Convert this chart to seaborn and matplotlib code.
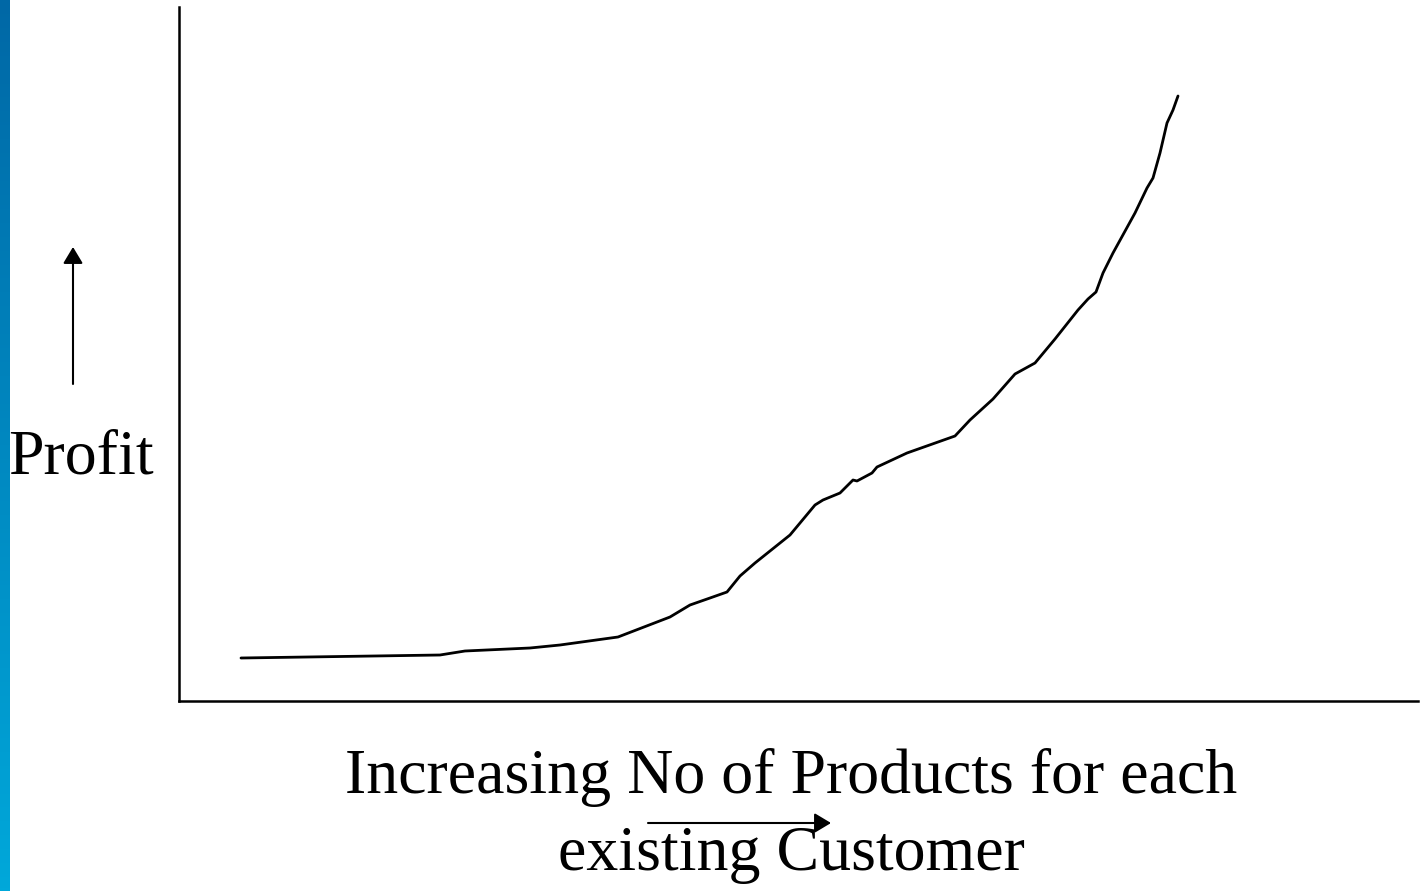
import numpy as np
import pandas as pd
import seaborn as sns
import matplotlib.pyplot as plt
from matplotlib.patches import FancyArrowPatch
from matplotlib.colors import LinearSegmentedColormap

sns.set_style("white")
plt.rcParams['font.family'] = ['Liberation Serif', 'DejaVu Serif']
plt.rcParams['text.color'] = 'black'

# curve (x: products, y: profit), pixel-like units
products = [62, 261, 286, 351, 381, 439, 491, 511, 531, 548, 561, 576, 611,
            636, 644, 661, 674, 678, 693, 698, 728, 776, 791, 814, 836, 856,
            876, 899, 909, 917, 924, 934, 956, 968, 974, 981, 988, 994, 999]
profit = [43, 46, 50, 53, 56, 64, 84, 96, 103, 109, 125, 138, 166, 196, 201,
          208, 221, 220, 228, 234, 248, 265, 281, 302, 327, 338, 362, 391,
          402, 409, 428, 448, 488, 513, 523, 548, 578, 591, 605]
df = pd.DataFrame({"products": products, "profit": profit})

W, H = 1427, 891
fig = plt.figure(figsize=(W / 100, H / 100), dpi=100)

# blue strip on the left edge
strip = fig.add_axes([0, 0, 10 / W, 1])
cmap = LinearSegmentedColormap.from_list("strip", ["#0068a6", "#00a8da"])
strip.imshow(np.linspace(0, 1, 256).reshape(-1, 1), aspect="auto", cmap=cmap)
strip.set_axis_off()

ax = fig.add_axes([179 / W, (H - 701) / H, (1418 - 179) / W, (701 - 7) / H])
sns.lineplot(data=df, x="products", y="profit", ax=ax, color="black",
             linewidth=2, sort=False)
ax.set_xlim(0, 1418 - 179)
ax.set_ylim(0, 701 - 7)
ax.set_xticks([])
ax.set_yticks([])
ax.set_xlabel("")
ax.set_ylabel("")
for s in ["top", "right"]:
    ax.spines[s].set_visible(False)
for s in ["left", "bottom"]:
    ax.spines[s].set_color("black")
    ax.spines[s].set_linewidth(1.8)

# labels and arrows, in figure coords
fig.text(8 / W, 1 - 473 / H, "Profit", fontsize=46, ha="left",
         va="baseline", color="black")
fig.text(791 / W, 1 - 793 / H, "Increasing No of Products for each",
         fontsize=46, ha="center", va="baseline", color="black")
fig.text(791 / W, 1 - 870 / H, "existing Customer",
         fontsize=46, ha="center", va="baseline", color="black")

arrow_kw = dict(arrowstyle="-|>,head_length=0.5,head_width=0.3",
                color="black", lw=1.5, mutation_scale=20,
                transform=fig.transFigure, shrinkA=0, shrinkB=0)
fig.add_artist(FancyArrowPatch((73 / W, 1 - 384 / H), (73 / W, 1 - 247 / H),
                               **arrow_kw))
fig.add_artist(FancyArrowPatch((648 / W, 1 - 823 / H), (831 / W, 1 - 823 / H),
                               **arrow_kw))

fig.savefig("out.png", dpi=100)
